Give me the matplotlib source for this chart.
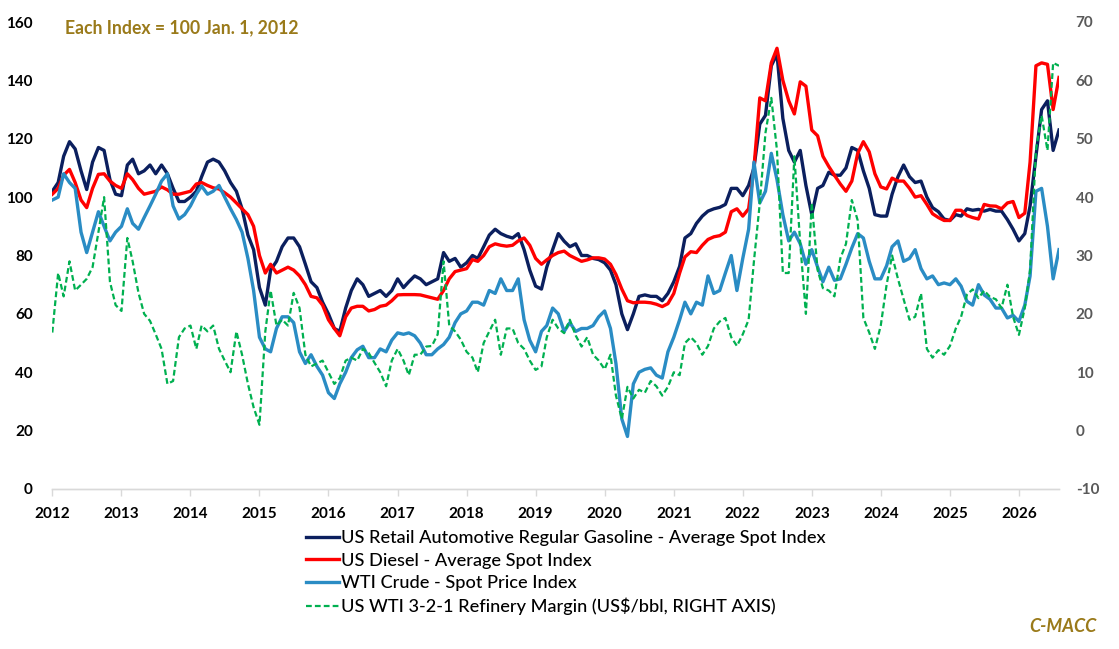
import matplotlib
matplotlib.use('Agg')
import matplotlib.pyplot as plt
import matplotlib.dates as mdates
import pandas as pd

plt.rcParams['font.family'] = ['Lato', 'DejaVu Sans']
plt.rcParams['axes.unicode_minus'] = False

# monthly readings, Jan 2012 .. Aug 2026
dates = pd.date_range('2012-01-01', periods=176, freq='MS')

gasoline = [
    102, 105, 114, 119, 116.5, 109, 102.6, 112, 117, 116, 106, 101,          # 2012
    100.5, 111, 113, 108, 109, 111, 108, 111, 108, 103, 98.5, 98.5,          # 2013
    100, 102, 107, 112, 113, 112, 109, 105, 102, 96, 87, 82,                 # 2014
    69, 63, 75, 78, 83, 86, 86, 83, 77, 71, 69, 64,                          # 2015
    60, 55, 54, 62, 68, 72, 70, 66, 67, 68, 66, 68,                          # 2016
    72, 69, 71, 73, 72, 70, 71, 72, 81, 78, 79, 76,                          # 2017
    77.5, 80, 79, 83, 87, 89, 87.5, 86.6, 86, 87.5, 82, 75,                  # 2018
    69.5, 68.5, 76, 82, 87.5, 84.9, 83, 84, 80, 80, 79, 78.6,                # 2019
    77.5, 75, 70, 60, 54.6, 60, 66, 66.5, 66, 66, 64.5, 67,                  # 2020
    71, 76.3, 86, 87.5, 91, 93.5, 95.2, 96, 96.5, 97.5, 103, 103,            # 2021
    100.5, 104, 110, 125, 128, 145, 149, 127, 116, 112, 116, 104,            # 2022
    94, 103, 104, 108.5, 107.5, 107.5, 110, 117, 116, 109, 103, 94,          # 2023
    93.5, 93.5, 101, 107, 111, 107, 105, 105.5, 100, 96.4, 95, 92.5,         # 2024
    92, 94, 93.5, 96, 95.5, 95.8, 95.2, 95.8, 95.2, 95.2, 92.3, 89,          # 2025
    85, 87.5, 97, 114, 130, 133, 116, 123,                                   # 2026
]

diesel = [
    101, 103, 107.5, 109.5, 105, 99, 96.4, 103, 107.8, 108, 105.5, 104,
    103, 108, 106, 103, 101, 101.5, 102, 103.5, 102.5, 101, 101, 101.5,
    102, 104.5, 105, 104, 103.2, 102.8, 101.5, 100, 98, 96, 94, 90,
    80, 74, 77, 74, 75, 76, 75, 73, 70, 66, 65.5, 63,
    58, 55, 52.5, 59, 62, 62.6, 62.6, 61, 61.5, 62.6, 63, 64.5,
    66.5, 66.6, 66.6, 66.6, 66.5, 66, 65.5, 65, 68, 72, 74.5, 75,
    75.5, 78.6, 78, 80, 83, 84, 83.5, 83.2, 83.5, 85, 86, 83.5,
    79, 77, 78.5, 80, 81, 81.5, 80, 79, 78, 78.5, 79.2, 79.2,
    78.8, 77, 73.5, 68.5, 64.5, 63.8, 64, 64, 63.8, 63.3, 62.5, 63.5,
    67, 74, 79.5, 81.3, 81, 83.5, 85.5, 86.4, 86.8, 88, 95, 96,
    93.5, 96, 110, 134, 133, 146, 151, 140, 133, 128.5, 139.5, 138,
    123, 121, 114, 110.5, 107.5, 104.5, 102, 105.5, 115, 119, 115.5, 108,
    103.5, 102.8, 106.5, 105.5, 105.5, 103, 100, 100.5, 97.5, 94.3, 93, 92,
    92, 95.5, 95.5, 93.7, 93, 92.5, 97.5, 97, 96.9, 96, 98, 98.5,
    93, 94.5, 112, 145, 146, 145.5, 130, 141,
]

wti = [
    99, 100, 108, 105, 103, 88, 81, 88, 95, 90, 85, 88,
    90, 96, 91, 89, 93, 97, 101, 105.5, 108, 97, 92.5, 94,
    97, 101, 103.8, 101, 102, 104, 100, 96, 92.3, 88, 79, 68,
    52, 48, 47, 55, 59, 59, 57, 47, 43, 46, 42, 39,
    33, 31, 36, 40, 45, 47.7, 48.9, 45, 45, 48, 47, 51,
    53.5, 53, 53.5, 52.5, 50, 46, 46, 48, 49.5, 52, 57, 60,
    61, 64, 64, 63, 68, 67, 72, 68, 68, 72, 58, 51,
    47, 54, 56, 62, 60, 54, 57, 54, 55, 55, 56, 59,
    61, 55, 43, 24, 18, 36, 40, 41, 41.5, 39, 38, 47,
    52, 58, 64, 60, 64, 63, 73, 67, 68, 74, 80, 68,
    79, 89, 112, 98, 102, 115, 106, 94, 85, 88, 84, 77,
    82, 76, 71, 76, 71.5, 72, 77, 82.6, 87.5, 86, 78, 72,
    72, 76.5, 83, 85, 78, 79, 82, 75.5, 72, 73, 70, 70.6,
    70, 72, 69.5, 64.3, 63, 70, 66.5, 65, 62, 62, 58.6, 59.5,
    57.4, 63, 73, 102, 103, 90, 72, 82,
]

# US$/bbl, right axis
margin = [
    16.8, 27, 23, 29, 24, 25, 26, 28, 34, 40, 25.5, 21.5,
    20.5, 33, 29, 23.6, 20, 18.8, 16.5, 14, 8, 8.5, 16, 17.5,
    18, 14, 18, 17, 18, 14, 12, 10, 17, 13, 8, 4,
    1, 17, 24, 18, 19, 18, 23.6, 21, 13, 11, 11.5, 12,
    10, 8, 9, 12, 12.5, 12, 14, 13.3, 11.6, 10, 7.6, 12,
    14, 12, 9.5, 13, 13, 14.4, 14.5, 16.5, 29, 18, 17, 15.6,
    13.5, 12.5, 10, 15, 17, 19, 13, 17.5, 17.5, 15, 14, 12,
    10.4, 11, 16, 19, 17.5, 16.7, 19, 16.3, 14.4, 16, 13, 12,
    10.5, 13, 6, 2, 7.5, 5.5, 7, 6.5, 8.5, 7.6, 6, 7.5,
    10, 9.5, 15, 16, 15, 13, 14.5, 17.5, 18.7, 19.3, 16, 14.5,
    16.5, 19, 29, 39, 51, 57, 48, 27, 27, 47, 32, 20,
    39, 27.5, 24.4, 24, 23, 29.5, 32, 39.5, 36, 19.3, 16.8, 14,
    18, 25, 30, 26, 22.5, 19, 19.5, 23.5, 14, 12.5, 13.8, 13,
    14.5, 17.5, 19.5, 23.3, 24.2, 22.7, 24, 22.9, 22.5, 21, 25, 19.5,
    16.4, 21, 27.5, 48, 54, 48, 63, 62.5,
]

labels = [
    'US Retail Automotive Regular Gasoline - Average Spot Index',
    'US Diesel - Average Spot Index',
    'WTI Crude - Spot Price Index',
    'US WTI 3-2-1 Refinery Margin (US$/bbl, RIGHT AXIS)',
]
years = list(range(2012, 2027))

gold = '#9A7A1A'
grid_gray = '#D9D9D9'

fig = plt.figure(figsize=(11.19, 6.49), dpi=100)
ax = fig.add_axes([52.3 / 1119, 1 - 489 / 649, (1059 - 52.3) / 1119, 467 / 649])
ax2 = ax.twinx()

l1, = ax.plot(dates, gasoline, color='#0B1F5E', lw=2.4, label=labels[0])
l2, = ax.plot(dates, diesel, color='#FF0000', lw=2.4, label=labels[1])
l3, = ax.plot(dates, wti, color='#2A8CC4', lw=2.4, label=labels[2])
l4, = ax2.plot(dates, margin, color='#00B050', lw=1.6, dashes=(2.6, 1.4), label=labels[3])

ax.set_ylim(0, 160)
ax.set_yticks(range(0, 161, 20))
ax2.set_ylim(-10, 70)
ax2.set_yticks(range(-10, 71, 10))

ax.set_xlim(pd.Timestamp('2012-01-01'), pd.Timestamp('2026-08-01'))
ax.set_xticks([pd.Timestamp(f'{y}-01-01') for y in years])
ax.xaxis.set_major_formatter(mdates.DateFormatter('%Y'))

for a in (ax, ax2):
    for s in ('top', 'left', 'right'):
        a.spines[s].set_visible(False)
    a.spines['bottom'].set_color(grid_gray)
    a.spines['bottom'].set_linewidth(1.0)

ax.tick_params(axis='x', direction='out', length=5, width=1, color=grid_gray,
               pad=8, labelsize=11)
ax.tick_params(axis='y', length=0, pad=14, labelsize=11)
ax2.tick_params(axis='y', length=0, pad=12, labelsize=11, labelcolor='#595959')
for t in ax.get_xticklabels() + ax.get_yticklabels() + ax2.get_yticklabels():
    t.set_fontweight('bold')

fig.text(65 / 1119, 1 - 28 / 649, 'Each Index = 100 Jan. 1, 2012', color=gold,
         fontsize=12.7, fontweight='bold', va='center', ha='left')
fig.text(1097 / 1119, 1 - 627 / 649, 'C-MACC', color=gold, fontsize=13,
         fontweight='bold', style='italic', va='center', ha='right')

fig.legend(handles=[l1, l2, l3, l4], loc='upper left',
           bbox_to_anchor=(306 / 1119, 1 - 530 / 649), frameon=False,
           prop={'size': 13.1, 'weight': 'medium'}, handlelength=1.8,
           handletextpad=0.15, labelspacing=0.36, borderpad=0, borderaxespad=0)

fig.savefig('out.png', dpi=100)
